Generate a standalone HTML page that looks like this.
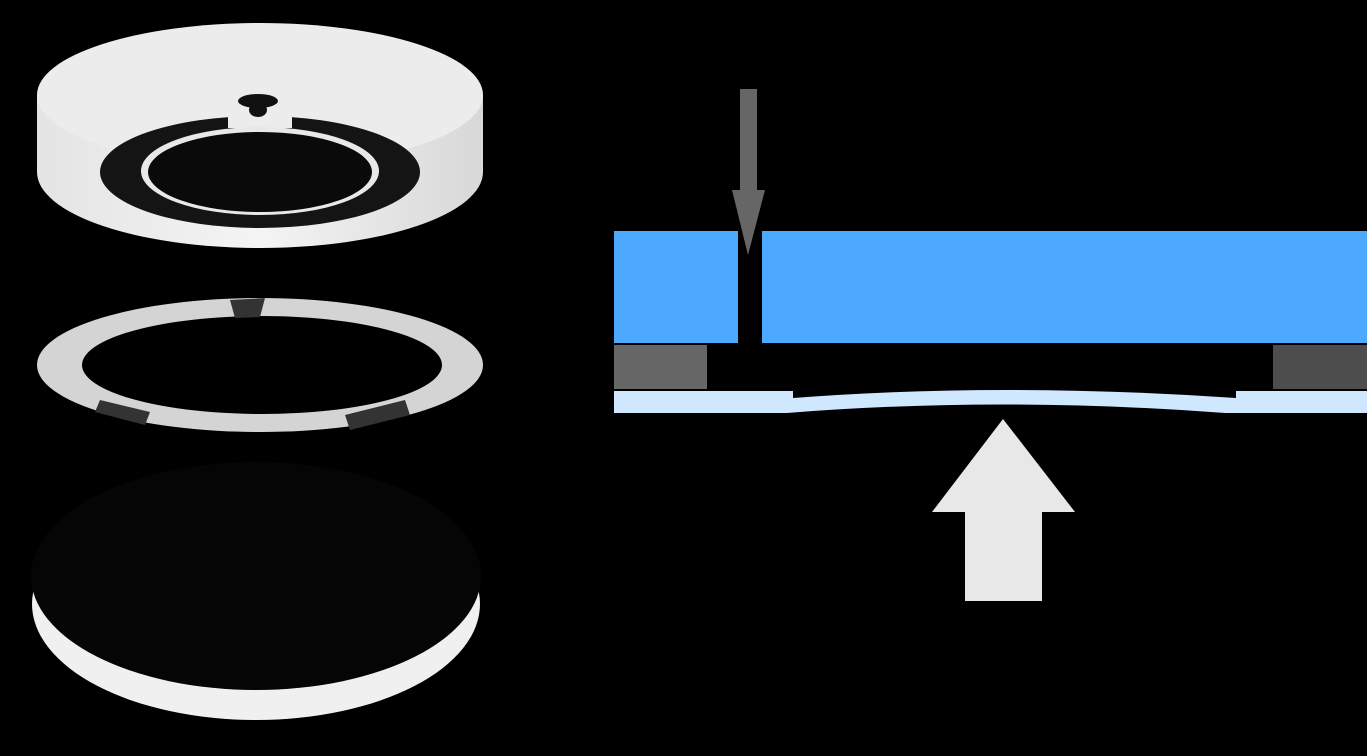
<!DOCTYPE html>
<html><head><style>html,body{margin:0;padding:0;background:#000;}svg{display:block}</style></head>
<body>
<svg width="1367" height="756" viewBox="0 0 1367 756" xmlns="http://www.w3.org/2000/svg">
<defs>
<linearGradient id="side" x1="0" y1="0" x2="1" y2="0">
<stop offset="0" stop-color="#e4e4e4"/><stop offset="0.5" stop-color="#f4f4f4"/><stop offset="1" stop-color="#d8d8d8"/>
</linearGradient>
</defs>
<rect width="1367" height="756" fill="#000"/>
<!-- top disk -->
<path d="M37,95 L37,172 A223,76 0 0 0 483,172 L483,95 Z" fill="url(#side)"/>
<ellipse cx="260" cy="95" rx="223" ry="72" fill="#ececec"/>
<ellipse cx="260" cy="172" rx="160" ry="56" fill="#141414"/>
<rect x="228" y="108" width="64" height="20" fill="#ececec"/>
<ellipse cx="260" cy="171" rx="119" ry="44" fill="#e8e8e8"/>
<ellipse cx="260" cy="172" rx="112" ry="40" fill="#0a0a0a"/>
<ellipse cx="258" cy="101" rx="20" ry="7" fill="#111"/>
<ellipse cx="258" cy="110" rx="9" ry="7" fill="#111"/>
<!-- ring -->
<path fill-rule="evenodd" fill="#d4d4d4" d="M37,365 A223,67 0 1 0 483,365 A223,67 0 1 0 37,365 Z M82,365 A180,49 0 1 0 442,365 A180,49 0 1 0 82,365 Z"/>
<path d="M230,300 L265,298 L260,317 L235,318 Z" fill="#333"/>
<path d="M100,400 L150,412 L145,425 L95,412 Z" fill="#333"/>
<path d="M345,415 L405,400 L410,415 L350,430 Z" fill="#333"/>
<!-- bottom disk -->
<ellipse cx="256" cy="604" rx="224" ry="116" fill="#f0f0f0"/>
<ellipse cx="256" cy="576" rx="225" ry="114" fill="#050505"/>
<!-- diagram -->
<rect x="614" y="231" width="753" height="112" fill="#4DA9FF"/>
<rect x="738" y="231" width="24" height="113" fill="#000"/>
<rect x="614" y="345" width="93" height="44" fill="#666"/>
<rect x="1273" y="345" width="94" height="44" fill="#4d4d4d"/>
<path d="M614,391 L793,391 L793,398 Q1000,382 1236,398 L1236,391 L1367,391 L1367,413 L1225,413 Q1000,396 787,413 L614,413 Z" fill="#CFE7FF"/>
<rect x="740" y="89" width="17" height="102" fill="#666"/>
<polygon points="732,190 765,190 748,255" fill="#666"/>
<polygon points="1003,419 1075,512 1042,512 1042,601 965,601 965,512 932,512" fill="#e8e8e8"/>
</svg>
</body></html>
